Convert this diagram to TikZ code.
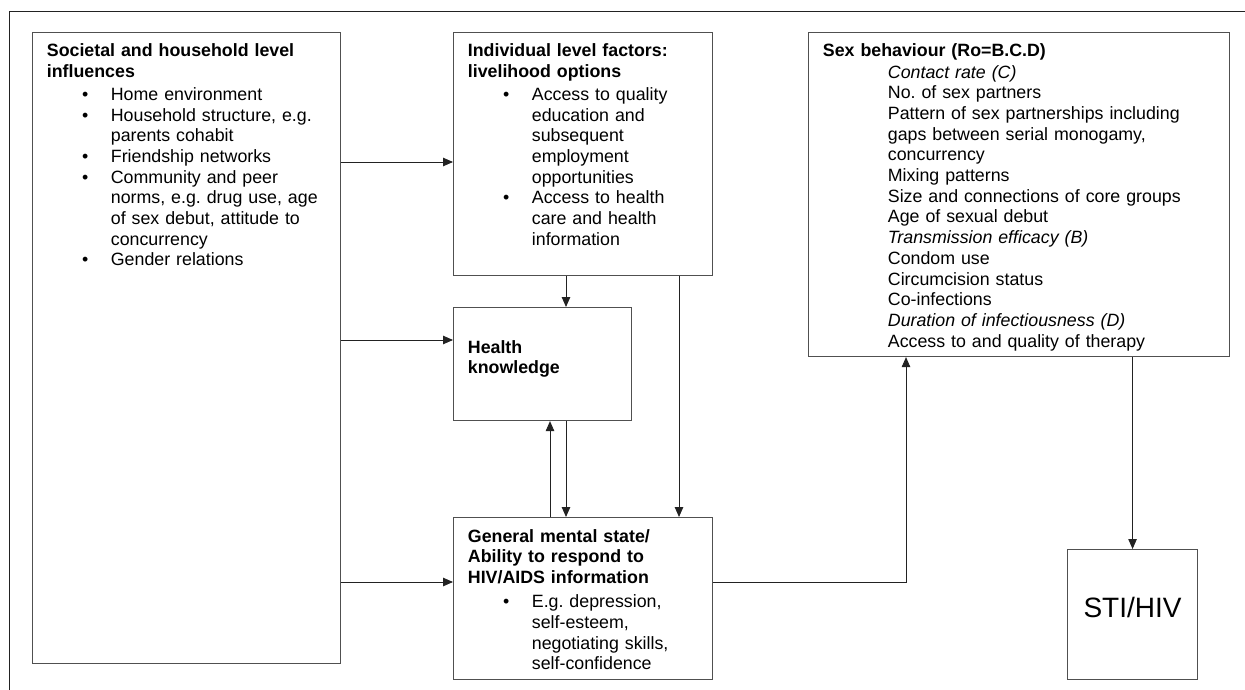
\documentclass[tikz,border=0pt]{standalone}
\usepackage{fontspec}
\setmainfont{Liberation Sans}
\usetikzlibrary{arrows.meta}
\setlength{\parindent}{0pt}
\setlength{\parskip}{0pt}
\frenchspacing

\definecolor{boxline}{HTML}{505050}
\definecolor{arrline}{HTML}{222222}

\newcommand{\bitem}[1]{\par{\leftskip=64pt\noindent\llap{\textbullet\hspace{22.5pt}}#1\par}}
\newcommand{\sitem}[1]{\par{\leftskip=65pt\noindent #1\par}}

\begin{document}
\begin{tikzpicture}[
  x=1pt,y=-1pt,
  font=\fontsize{17.8}{20.7}\selectfont,
  box/.style={draw=boxline,line width=1.1pt,inner sep=0pt,anchor=north west},
  txt/.style={inner sep=0pt,anchor=north west,align=left},
  arr/.style={draw=arrline,line width=.9pt,-{Triangle[length=10pt,width=8.5pt]}}
]
  \useasboundingbox (0,0) rectangle (1245,690);
  \draw[arrline,line width=1pt] (9,690) -- (9,12) -- (1245,12);

  % the six boxes
  \node[box,minimum width=308pt,minimum height=631pt] (soc) at (32,32) {};
  \node[box,minimum width=259pt,minimum height=243pt] (ind) at (453,32) {};
  \node[box,minimum width=178pt,minimum height=113pt] (hk) at (453,307) {};
  \node[box,minimum width=259pt,minimum height=162pt] (gms) at (453,517) {};
  \node[box,minimum width=421pt,minimum height=324pt] (sex) at (808,32) {};
  \node[box,minimum width=130pt,minimum height=130pt] (sti) at (1067,549) {};

  % their texts
  \node[txt,text width=285pt] (socT) at (46.7,43.3) {%
    {\bfseries Societal and household level\\influences\par}\vspace{2.6pt}
    \bitem{Home environment}
    \bitem{Household structure, e.g.\\parents cohabit}
    \bitem{Friendship networks}
    \bitem{Community and peer\\norms, e.g. drug use, age\\of sex debut, attitude to\\concurrency}
    \bitem{Gender relations}};
  \node[txt,text width=235pt] (indT) at (467.7,43.3) {%
    {\bfseries Individual level factors:\\livelihood options\par}\vspace{2.6pt}
    \bitem{Access to quality\\education and\\subsequent\\employment\\opportunities}
    \bitem{Access to health\\care and health\\information}};
  \node[txt,text width=150pt] (hkT) at (467.7,340) {%
    {\bfseries Health\\knowledge\par}};
  \node[txt,text width=235pt] (gmsT) at (467.7,529) {%
    {\bfseries General mental state/\\Ability to respond to\\HIV/AIDS information\par}\vspace{3.5pt}
    \bitem{E.g. depression,\\self-esteem,\\negotiating skills,\\self-confidence}};
  \node[txt,text width=395pt] (sexT) at (822.7,43.3) {%
    {\bfseries Sex behaviour (Ro=B.C.D)\par}\vspace{1pt}
    \sitem{\itshape Contact rate (C)}
    \sitem{No. of sex partners}
    \sitem{Pattern of sex partnerships including\\gaps between serial monogamy,\\concurrency}
    \sitem{Mixing patterns}
    \sitem{Size and connections of core groups}
    \sitem{Age of sexual debut}
    \sitem{\itshape Transmission efficacy (B)}
    \sitem{Condom use}
    \sitem{Circumcision status}
    \sitem{Co-infections}
    \sitem{\itshape Duration of infectiousness (D)}
    \sitem{Access to and quality of therapy}};
  \node[font=\fontsize{28}{30}\selectfont] (stiT) at ([yshift=7.3pt]sti.center) {STI/HIV};

  % connectors
  \draw[arr] (soc.east |- 0,162) -- (ind.west |- 0,162);
  \draw[arr] (soc.east |- 0,340) -- (hk.west |- 0,340);
  \draw[arr] (soc.east |- 0,582) -- (gms.west |- 0,582);
  \draw[arr] (ind.south -| 566,0) -- (hk.north -| 566,0);
  \draw[arr] (ind.south -| 679,0) -- (gms.north -| 679,0);
  \draw[arr] (gms.north -| 550,0) -- (hk.south -| 550,0);
  \draw[arr] (hk.south -| 566,0) -- (gms.north -| 566,0);
  \draw[arr] (gms.east |- 0,582) -| (sex.south -| 906,0);
  \draw[arr] (sex.south -| sti.north) -- (sti.north);
\end{tikzpicture}
\end{document}
